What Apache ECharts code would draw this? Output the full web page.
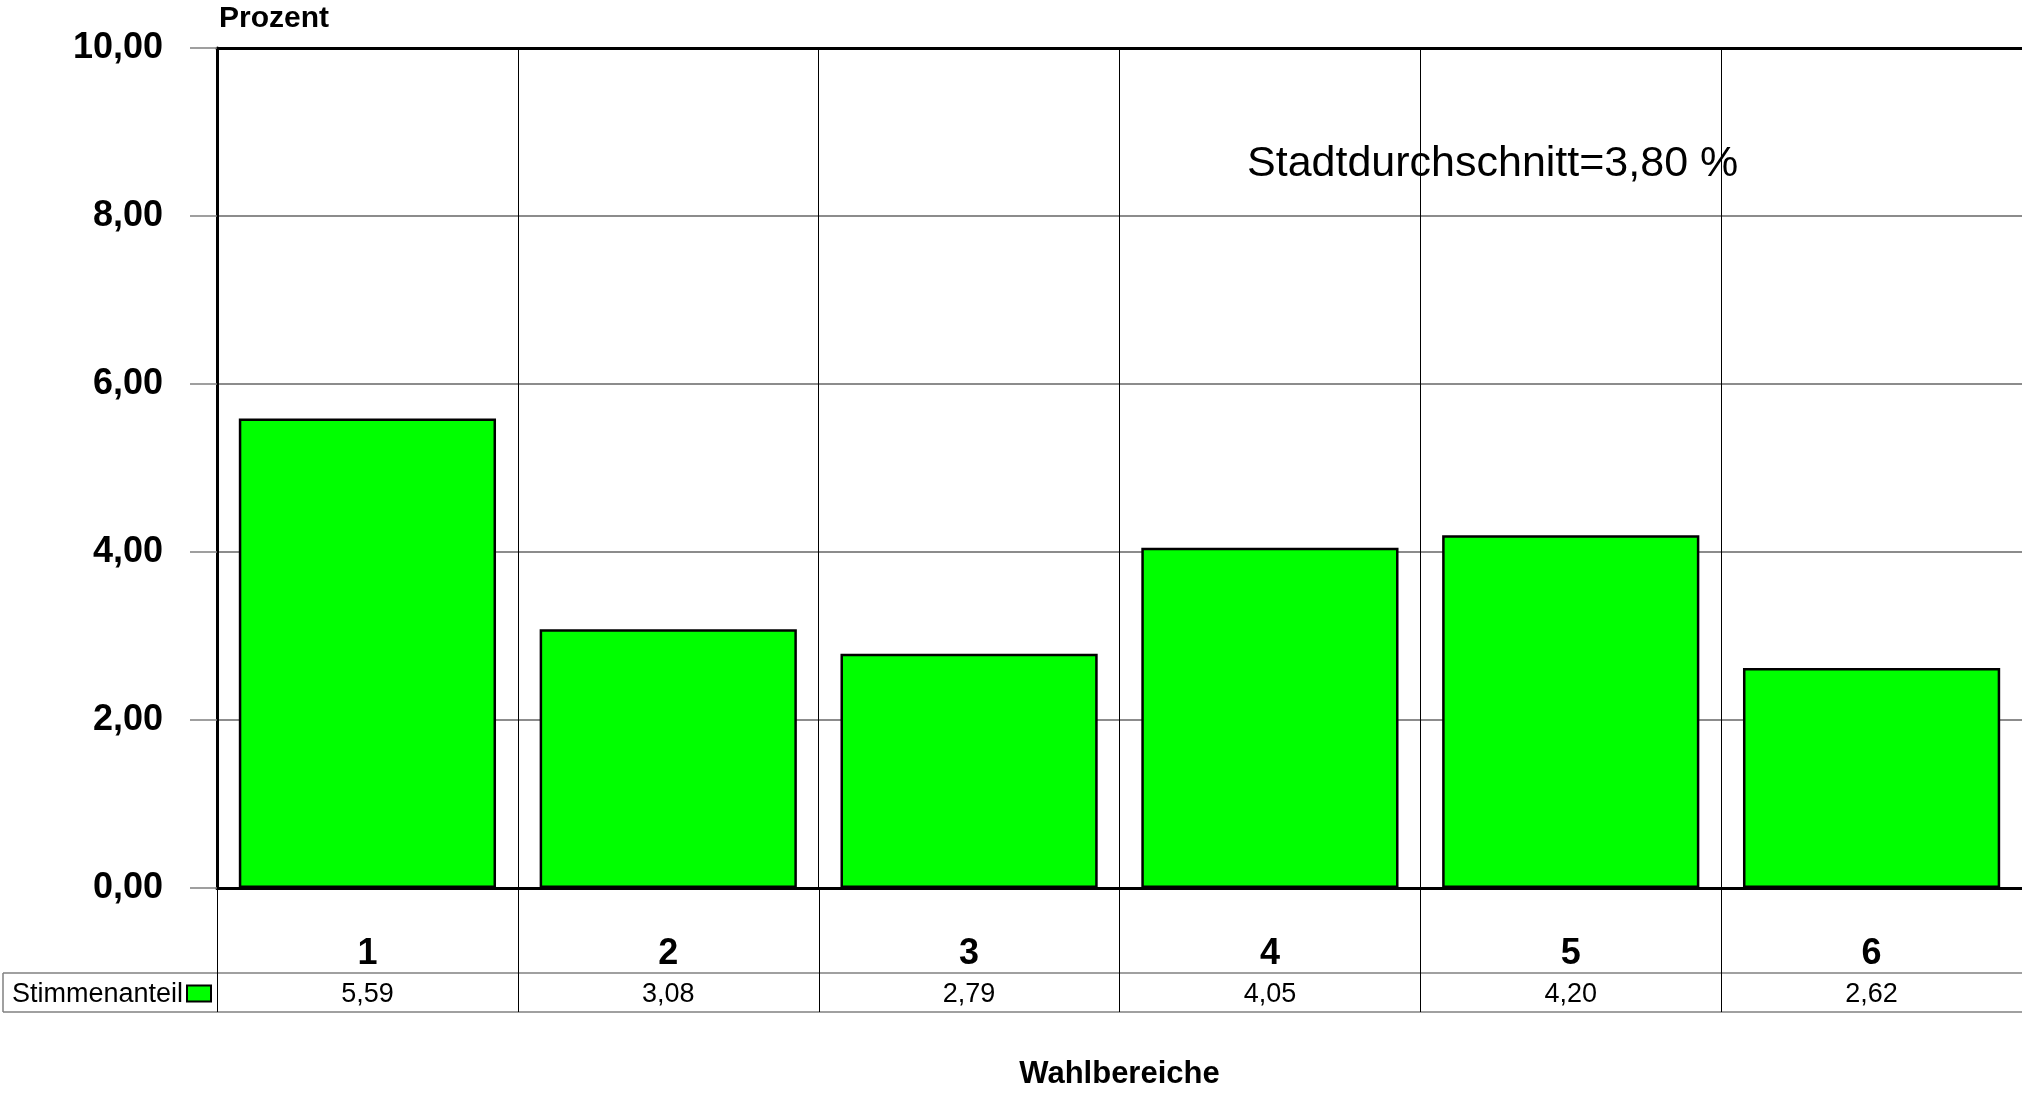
<!DOCTYPE html>
<html>
<head>
<meta charset="utf-8">
<script src="https://cdn.jsdelivr.net/npm/echarts@6/dist/echarts.min.js"></script>
<style>
html,body{margin:0;padding:0;background:#fff;}
#c{width:2022px;height:1095px;}
</style>
</head>
<body>
<div id="c"></div>
<script>
const categories = ['1', '2', '3', '4', '5', '6'];
const shares = [5.59, 3.08, 2.79, 4.05, 4.20, 2.62];
const seriesName = 'Stimmenanteil';
const yAxisTitle = 'Prozent';
const xAxisTitle = 'Wahlbereiche';
const avgNote = 'Stadtdurchschnitt=3,80 %';

const fmt = v => v.toFixed(2).replace('.', ',');
const FONT = '"Liberation Sans", Arial, sans-serif';

const chart = echarts.init(document.getElementById('c'), null, {renderer: 'canvas'});
chart.setOption({
  animation: false,
  backgroundColor: '#ffffff',
  textStyle: {fontFamily: FONT},
  grid: {left: 217, top: 48, width: 1808, height: 841},
  xAxis: [{
    type: 'category',
    data: categories,
    position: 'bottom',
    axisLine: {lineStyle: {color: '#000', width: 3}},
    axisTick: {alignWithLabel: true, length: 27, lineStyle: {color: '#808080', width: 1.5}},
    axisLabel: {fontSize: 36, fontWeight: 'bold', color: '#000', margin: 48, fontFamily: FONT},
    splitLine: {show: true, lineStyle: {color: '#000', width: 1}},
    name: xAxisTitle,
    nameLocation: 'middle',
    nameGap: 171,
    nameTextStyle: {fontSize: 31, fontWeight: 'bold', color: '#000', fontFamily: FONT}
  }, {
    type: 'category',
    data: categories,
    position: 'top',
    axisLine: {lineStyle: {color: '#000', width: 3}},
    axisTick: {show: false},
    axisLabel: {show: false},
    splitLine: {show: false}
  }],
  yAxis: {
    type: 'value',
    min: 0, max: 10, interval: 2,
    axisLine: {show: true, lineStyle: {color: '#000', width: 3}},
    axisTick: {show: true, length: 27, lineStyle: {color: '#808080', width: 1.5}},
    axisLabel: {fontSize: 36, fontWeight: 'bold', color: '#000', margin: 54, formatter: fmt, fontFamily: FONT},
    splitLine: {lineStyle: {color: '#666', width: 1.5}}
  },
  series: [{
    type: 'bar',
    name: seriesName,
    data: shares,
    barCategoryGap: '14.5%',
    itemStyle: {color: '#00ff00', borderColor: '#000', borderWidth: 2.5}
  }]
});

// data table below the axis, positioned from the chart's own scales
const yZero = chart.convertToPixel({yAxisIndex: 0}, 0);
const centers = categories.map((c, i) => chart.convertToPixel({xAxisIndex: 0}, i));
const band = centers[1] - centers[0];
const rowTop = yZero + 85;
const rowBottom = yZero + 124;
const rowMid = (rowTop + rowBottom) / 2 + 2;
const W = 2022;
const g = [];
g.push({type: 'line', shape: {x1: 3, y1: rowTop, x2: W, y2: rowTop}, style: {stroke: '#808080', lineWidth: 1.5}, z: 50});
g.push({type: 'line', shape: {x1: 3, y1: rowBottom, x2: W, y2: rowBottom}, style: {stroke: '#808080', lineWidth: 1.5}, z: 50});
g.push({type: 'line', shape: {x1: 3, y1: rowTop, x2: 3, y2: rowBottom}, style: {stroke: '#808080', lineWidth: 1.5}, z: 50});
centers.forEach((cx, i) => {
  const bx = Math.round(cx - band / 2) + 0.5;
  g.push({type: 'line', shape: {x1: bx, y1: yZero + 2, x2: bx, y2: rowBottom}, style: {stroke: '#000', lineWidth: 1}, z: 50});
  g.push({type: 'text', x: cx, y: rowMid, style: {text: fmt(shares[i]), font: '27px ' + FONT, fill: '#000', textAlign: 'center', textVerticalAlign: 'middle'}, z: 51});
});
const firstEdge = centers[0] - band / 2;
g.push({type: 'text', x: 12, y: rowMid, style: {text: seriesName, font: '27px ' + FONT, fill: '#000', textAlign: 'left', textVerticalAlign: 'middle'}, z: 51});
g.push({type: 'rect', shape: {x: firstEdge - 30, y: rowMid - 9, width: 24, height: 16}, style: {fill: '#00ff00', stroke: '#000', lineWidth: 2}, z: 51});
g.push({type: 'text', x: 219, y: 19, style: {text: yAxisTitle, font: 'bold 30px ' + FONT, fill: '#000', textAlign: 'left', textVerticalAlign: 'middle'}, z: 51});
g.push({type: 'text', x: 1247, y: 164, style: {text: avgNote, font: '43px ' + FONT, fill: '#000', textAlign: 'left', textVerticalAlign: 'middle'}, z: 51});
chart.setOption({graphic: g});
</script>
</body>
</html>
